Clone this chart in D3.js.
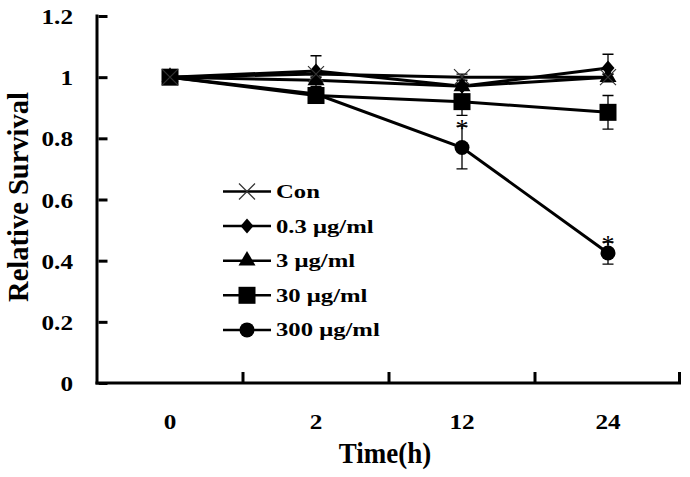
<!DOCTYPE html>
<html><head><meta charset="utf-8">
<script src="https://cdn.jsdelivr.net/npm/d3@7"></script>
<style>body{margin:0;background:#fff}svg{display:block}text{font-family:"Liberation Serif","Times New Roman",serif;font-weight:bold;fill:#000}</style>
</head><body><svg id="c" width="690" height="477"></svg>
<script>
const categories = ["0","2","12","24"];
const yTicks = [0,0.2,0.4,0.6,0.8,1,1.2];
const seriesNames = ["Con","0.3 μg/ml","3 μg/ml","30 μg/ml","300 μg/ml"];
const conVals = [1.0, 1.01, 1.0, 1.0];
const conErr = [0, 0.01, 0.01, 0.01];
const v03Vals = [1.0, 1.02, 0.97, 1.03];
const v03Err = [0, 0.05, 0.01, 0.045];
const v3Vals = [1.0, 0.99, 0.97, 1.0];
const v3Err = [0, 0.01, 0.01, 0.01];
const v30Vals = [1.0, 0.94, 0.92, 0.885];
const v30Err = [0, 0.01, 0.045, 0.055];
const v300Vals = [1.0, 0.945, 0.77, 0.425];
const v300Err = [0, 0.01, 0.07, 0.036];
const sigCategories = ["12","24"];

const series = [
  {name: seriesNames[4], vals: v300Vals, err: v300Err, shape: "circle"},
  {name: seriesNames[3], vals: v30Vals, err: v30Err, shape: "square"},
  {name: seriesNames[2], vals: v3Vals, err: v3Err, shape: "triangle"},
  {name: seriesNames[1], vals: v03Vals, err: v03Err, shape: "diamond"},
  {name: seriesNames[0], vals: conVals, err: conErr, shape: "x"}
];

const svg = d3.select("#c");
const x = d3.scaleBand().domain(categories).range([97, 681]);
const y = d3.scaleLinear().domain([0, 1.2]).range([383, 16]);
const cx = c => x(c) + x.bandwidth() / 2;

function stretch(sel, ax, sx) {
  sel.attr("transform", `translate(${ax},0) scale(${sx},1) translate(${-ax},0)`);
}

function marker(g, shape, px, py) {
  if (shape === "circle") g.append("circle").attr("cx", px).attr("cy", py).attr("r", 7.5).attr("fill", "#000");
  else if (shape === "square") g.append("rect").attr("x", px - 8.5).attr("y", py - 8.5).attr("width", 17).attr("height", 17).attr("fill", "#000");
  else if (shape === "triangle") g.append("path").attr("d", d3.symbol(d3.symbolTriangle, 125)()).attr("transform", `translate(${px},${py})`).attr("fill", "#000");
  else if (shape === "diamond") g.append("path").attr("d", `M${px},${py-7.5}L${px+6.5},${py}L${px},${py+7.5}L${px-6.5},${py}Z`).attr("fill", "#000");
  else if (shape === "x") {
    g.append("path").attr("d", `M${px-8},${py-8}L${px+8},${py+8}M${px-8},${py+8}L${px+8},${py-8}`).attr("stroke", "#333").attr("stroke-width", 1.2);
  }
}

// Y axis
const yAxis = d3.axisLeft(y).tickValues(yTicks).tickSizeInner(-9).tickSizeOuter(0).tickPadding(24)
  .tickFormat(d => d === 0 ? "0" : (d === 1 ? "1" : d3.format(".1f")(d)));
const gy = svg.append("g").attr("transform", "translate(97,0)").call(yAxis);
gy.select(".domain").attr("stroke-width", 3).attr("d", "M0,14.5V384.5");
gy.selectAll(".tick line").attr("stroke-width", 3).attr("transform", "translate(1.5,0)");
gy.selectAll(".tick text").style("font-size", "21px").attr("dy", "0.36em")
  .each(function() { stretch(d3.select(this), -24, 1.2); });

// X axis
const xAxis = d3.axisBottom(x).tickSize(0).tickPadding(31);
const gx = svg.append("g").attr("transform", "translate(0,383)").call(xAxis);
gx.select(".domain").attr("stroke-width", 3).attr("d", "M95.5,0H681");
gx.selectAll(".tick text").style("font-size", "21px")
  .each(function() { stretch(d3.select(this), 0, 1.2); });
const bounds = categories.slice(1).map(c => x(c)).concat([x.range()[1] - 1.5]);
gx.selectAll(".bnd").data(bounds).join("line").attr("class", "bnd")
  .attr("x1", d => d).attr("x2", d => d).attr("y1", -1).attr("y2", -11)
  .attr("stroke", "#000").attr("stroke-width", 3);

// Axis titles
svg.append("text").attr("transform", "translate(28,197) rotate(-90)").attr("text-anchor", "middle")
  .style("font-size", "28.5px").text("Relative Survival");
const xt = svg.append("text").attr("x", 385).attr("y", 463).attr("text-anchor", "middle").style("font-size", "30px").text("Time(h)");
stretch(xt, 385, 0.9);

// Series
const line = d3.line().x((d, i) => cx(categories[i])).y(d => y(d));
series.forEach(s => {
  const g = svg.append("g");
  g.append("path").attr("d", line(s.vals)).attr("fill", "none").attr("stroke", "#000").attr("stroke-width", 3);
  s.vals.forEach((v, i) => {
    const px = cx(categories[i]);
    if (s.err[i] > 0) {
      const y1 = y(v + s.err[i]), y2 = y(v - s.err[i]);
      g.append("path").attr("d", `M${px},${y1}V${y2}M${px-5.5},${y1}H${px+5.5}M${px-5.5},${y2}H${px+5.5}`)
        .attr("stroke", "#000").attr("stroke-width", 1.3).attr("fill", "none");
    }
  });
  s.vals.forEach((v, i) => marker(g, s.shape, cx(categories[i]), y(v)));
});

// significance stars
sigCategories.forEach(c => {
  const i = categories.indexOf(c);
  svg.append("text").attr("x", cx(c)).attr("y", y(v300Vals[i] + v300Err[i]) + 11).attr("text-anchor", "middle")
    .style("font-size", "26px").style("font-weight", "normal").text("*");
});

// Legend
const legRows = [
  {name: seriesNames[0], shape: "x"},
  {name: seriesNames[1], shape: "diamond"},
  {name: seriesNames[2], shape: "triangle"},
  {name: seriesNames[3], shape: "square"},
  {name: seriesNames[4], shape: "circle"}
];
const lg = svg.append("g");
legRows.forEach((r, i) => {
  const ly = 191.5 + i * 34.6;
  lg.append("line").attr("x1", 223).attr("x2", 271).attr("y1", ly).attr("y2", ly).attr("stroke", "#000").attr("stroke-width", 2.5);
  marker(lg, r.shape, 247, ly);
  const t = lg.append("text").attr("x", 276).attr("y", ly).attr("dy", "0.34em").style("font-size", "19px").text(r.name);
  stretch(t, 276, 1.3);
});
</script></body></html>
